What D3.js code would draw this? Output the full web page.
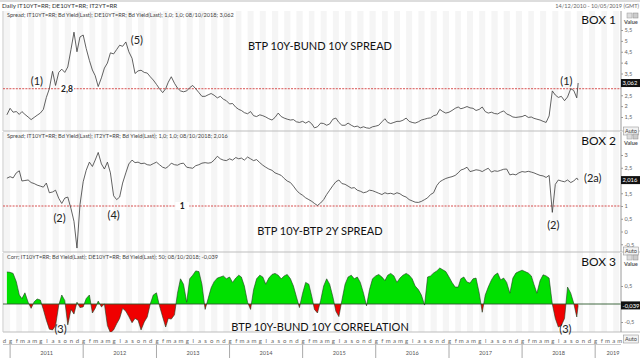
<!DOCTYPE html>
<html><head><meta charset="utf-8">
<script src="https://cdn.jsdelivr.net/npm/d3@7"></script>
<style>body{margin:0;background:#fff}svg{display:block}text{font-family:"Lato","Open Sans",sans-serif}</style>
</head><body><svg id="c" width="640" height="360"></svg>
<script>
// ---- DATA (semi-monthly samples: 16 Dec 2010, 1 Jan 2011, 16 Jan 2011, ... last = 08/10/2018)
const firstSample = "2010-12-16";
const lastSample = "2018-10-08";
const axisStart = "2010-12-14";
const axisEnd = "2019-05-10";

const spreadBund = [
1.60,1.90,1.72,1.75,1.62,1.75,1.62,1.50,1.38,1.48,1.58,1.68,1.85,2.40,2.80,3.60,2.95,3.55,3.70,3.55,
3.80,4.60,5.40,4.50,5.18,5.27,4.65,4.10,3.66,3.40,2.90,3.30,3.75,3.98,4.45,4.40,4.60,4.80,4.75,4.95,
4.50,4.20,3.50,3.62,3.65,3.55,3.52,3.35,3.20,3.00,2.80,2.62,2.80,3.10,3.35,3.05,2.83,2.70,2.66,2.70,
2.85,2.95,2.80,2.62,2.45,2.45,2.52,2.58,2.50,2.38,2.45,2.32,2.25,2.10,2.12,1.95,1.85,1.80,1.70,1.65,
1.75,1.56,1.52,1.60,1.56,1.50,1.42,1.36,1.48,1.68,1.52,1.45,1.40,1.36,1.38,1.28,1.25,1.30,1.22,1.30,
1.18,1.00,1.05,1.22,1.20,1.12,1.18,1.40,1.45,1.25,1.12,1.12,1.22,1.12,1.05,1.08,1.00,1.05,1.00,0.98,
1.05,1.08,1.12,1.28,1.42,1.25,1.20,1.25,1.30,1.30,1.35,1.45,1.30,1.25,1.22,1.28,1.36,1.40,1.44,1.46,
1.56,1.60,1.85,1.75,1.68,1.72,1.80,1.90,1.96,1.88,1.92,1.98,1.92,1.90,1.80,1.85,1.96,1.75,1.68,1.72,
1.66,1.64,1.72,1.78,1.64,1.58,1.50,1.48,1.50,1.52,1.58,1.48,1.50,1.44,1.40,1.36,1.30,1.25,1.55,2.70,
2.51,2.40,2.45,2.25,2.42,2.80,2.72,2.38,3.062];

const spread2y = [
2.09,2.15,2.10,2.30,2.38,1.98,2.00,2.02,1.92,1.88,1.82,1.78,1.74,1.90,1.52,1.55,1.62,1.30,1.10,1.31,
1.35,0.90,0.40,-0.65,1.05,1.95,2.40,2.72,2.55,2.80,3.10,2.65,2.45,2.72,2.30,1.40,1.25,1.35,1.90,2.30,
2.65,2.80,2.70,2.72,2.66,2.68,2.62,2.60,2.66,2.72,2.62,2.52,2.48,2.55,2.68,2.62,2.60,2.66,2.68,2.52,
2.50,2.48,2.58,2.62,2.68,2.70,2.68,2.70,2.80,2.95,2.85,2.80,2.78,2.85,2.80,2.90,2.85,2.88,2.80,2.92,
2.85,2.78,2.82,2.70,2.60,2.52,2.45,2.40,2.30,2.25,2.20,2.08,1.98,1.92,1.78,1.62,1.50,1.42,1.32,1.25,
1.18,1.10,1.02,1.12,1.25,1.45,1.62,1.80,1.95,2.02,1.88,1.85,1.78,1.70,1.72,1.62,1.58,1.52,1.55,1.62,
1.60,1.55,1.50,1.45,1.52,1.48,1.50,1.46,1.52,1.48,1.40,1.35,1.25,1.20,1.15,1.14,1.18,1.25,1.32,1.45,
1.52,1.80,1.95,2.02,2.08,2.12,2.15,2.20,2.30,2.41,2.45,2.52,2.35,2.38,2.42,2.40,2.35,2.42,2.48,2.33,
2.38,2.36,2.40,2.44,2.45,2.22,2.25,2.22,2.30,2.35,2.33,2.36,2.33,2.30,2.25,2.20,2.18,2.12,2.20,0.75,
1.85,2.02,1.98,1.95,2.02,1.92,1.98,2.10,2.016];

const corrBund = [
0.89,0.88,0.85,0.62,0.25,0.15,0.31,0.05,-0.12,0.06,0.14,0.11,-0.15,-0.45,-0.70,-0.72,-0.60,-0.03,0.25,0.10,
-0.58,-0.15,-0.28,0.05,-0.10,-0.08,0.15,0.25,-0.25,-0.12,0.08,-0.08,0.00,-0.60,-0.80,-0.72,-0.55,-0.40,-0.12,-0.20,
-0.35,-0.52,-0.40,-0.45,-0.72,-0.50,-0.36,0.00,0.25,0.31,-0.05,-0.36,-0.64,-0.40,-0.42,-0.30,0.30,0.70,0.55,0.05,
0.70,0.80,0.92,0.90,0.55,-0.15,0.15,0.45,0.62,0.72,0.75,0.78,0.70,0.75,0.60,0.72,0.80,0.75,0.50,0.05,
-0.15,0.40,0.70,0.80,0.75,0.55,0.72,0.82,0.85,0.80,0.70,0.78,0.82,0.70,0.50,0.20,-0.10,0.30,0.60,0.55,
0.20,-0.15,-0.25,0.10,0.50,0.70,0.55,0.20,-0.20,-0.35,0.10,0.55,0.75,0.80,0.70,0.75,0.60,0.30,-0.05,0.40,
0.70,0.78,0.82,0.75,0.65,0.80,0.85,0.78,0.60,0.72,0.80,0.85,0.80,0.70,0.50,0.40,0.25,-0.03,0.75,0.78,
0.86,0.92,1.00,0.95,0.90,0.75,0.60,0.47,0.47,0.70,0.75,0.61,0.58,0.70,0.72,0.30,-0.23,0.25,0.47,0.67,
0.80,0.86,0.67,0.72,0.60,0.30,0.72,0.86,0.90,0.94,0.90,0.86,0.78,0.55,0.30,0.65,0.81,0.78,0.72,0.00,
-0.40,-0.64,-0.60,-0.40,0.47,0.30,0.02,-0.36,-0.039];

const monthLetters = ["g","f","m","a","m","g","l","a","s","o","n","d"];
const yearLabels = [2011,2012,2013,2014,2015,2016,2017,2018,2019];
const ticks1 = [1.5,2,2.5,3,3.5,4,4.5,5,5.5];
const ticks2 = [-0.5,0,0.5,1,1.5,2,2.5,3];
const ticks3 = [-0.5,0,0.5];
const refLevel1 = 2.8, refLevel2 = 1;
const headerText = "Daily IT10YT=RR; DE10YT=RR; IT2YT=RR";
const rangeText = "14/12/2010 - 10/05/2019 (GMT)";
const panelLabels = [
 "Spread; IT10YT=RR; Bd Yield(Last); DE10YT=RR; Bd Yield(Last);  1,0; 1,0; 08/10/2018; 3,062",
 "Spread; IT10YT=RR; Bd Yield(Last); IT2YT=RR; Bd Yield(Last);  1,0; 1,0; 08/10/2018; 2,016",
 "Corr; IT10YT=RR; Bd Yield(Last); DE10YT=RR; Bd Yield(Last);  50; 08/10/2018; -0,039"];
const titles = ["BTP 10Y-BUND 10Y SPREAD","BTP 10Y-BTP 2Y SPREAD","BTP 10Y-BUND 10Y CORRELATION"];
const boxNames = ["BOX 1","BOX 2","BOX 3"];
const lastLabels = ["3,062","2,016","-0,039"];
const lastValues = [3.062, 2.016, -0.039];
// annotations: [panel, date, value, text]
const notes = [
 [0,"2011-05-15",3.2,"(1)"],[0,"2012-09-25",5.05,"(5)"],[0,"2018-08-10",3.2,"(1)"],
 [1,"2011-09-05",0.53,"(2)"],[1,"2012-06-01",0.65,"(4)"],[1,"2018-06-06",0.26,"(2)"],[1,"2018-12-20",2.13,"(2a)"],
 [2,"2011-09-10",-0.69,"(3)"],[2,"2018-08-05",-0.68,"(3)"]];
const refNotes = [[0,"2011-10-12",2.8,"2,8"],[1,"2013-05-10",1,"1"]];

// ---- BUILD
const P = d3.timeParse("%Y-%m-%d");
const endD = P(lastSample);
function sampleDates(n){
  const out=[]; let d=P(firstSample);
  for(let i=0;i<n;i++){
    out.push(d>endD?endD:d);
    d = d.getDate()===16 ? new Date(d.getFullYear(), d.getMonth()+1, 1) : new Date(d.getFullYear(), d.getMonth(), 16);
  }
  return out;
}
const svg = d3.select("#c");
const W=640, H=360, L=3, R=621;
const x = d3.scaleTime().domain([P(axisStart),P(axisEnd)]).range([6.5,R]);
const panels = [
  {top:11,bot:131,auto:131,y:d3.scaleLinear().domain([1.5,5.5]).range([117,30]),data:spreadBund,ticks:ticks1},
  {top:132,bot:252,auto:251,y:d3.scaleLinear().domain([1,3]).range([206,155]),data:spread2y,ticks:ticks2},
  {top:253,bot:332,auto:339,y:d3.scaleLinear().domain([-0.5,0.5]).range([322,286]),data:corrBund,ticks:ticks3}
];
const fmt = v => String(+v.toFixed(3)).replace(".",",");

// month bands background
const months = d3.timeMonth.range(d3.timeMonth.floor(P(axisStart)), P(axisEnd));
const bg = svg.append("g");
months.forEach((m,i)=>{
  if(m.getMonth()%2===1){
    const x0=Math.max(x(m),L), x1=Math.min(x(d3.timeMonth.offset(m,1)),R);
    bg.append("rect").attr("x",x0).attr("y",11).attr("width",Math.max(0,x1-x0)).attr("height",321).attr("fill","#f5f5f5");
  }
});

// header
svg.append("line").attr("x1",0).attr("x2",W).attr("y1",1).attr("y2",1).attr("stroke","#bbb");
svg.append("text").attr("x",2).attr("y",8).attr("font-size",6.2).attr("fill","#333").text(headerText);
svg.append("text").attr("x",639).attr("y",8).attr("font-size",5.6).attr("fill","#666").attr("text-anchor","end").text(rangeText);

panels.forEach((p,k)=>{
  const g = svg.append("g");
  const cid="clip"+k;
  svg.append("clipPath").attr("id",cid).append("rect").attr("x",L).attr("y",p.top).attr("width",R-L).attr("height",p.bot-p.top);
  // frame
  g.append("line").attr("x1",L).attr("x2",W).attr("y1",p.bot).attr("y2",p.bot).attr("stroke","#bdbdbd");
  g.append("line").attr("x1",L).attr("x2",L).attr("y1",p.top).attr("y2",p.bot).attr("stroke","#c8c8c8");
  const dates = sampleDates(p.data.length);
  const pts = p.data.map((v,i)=>[dates[i],v]);
  if(k<2){
    const ref = k===0?refLevel1:refLevel2;
    g.append("line").attr("x1",L).attr("x2",R).attr("y1",p.y(ref)).attr("y2",p.y(ref))
      .attr("stroke","#d23c3c").attr("stroke-width",0.9).attr("stroke-dasharray","2,1.2");
    g.append("path").datum(pts).attr("clip-path",`url(#${cid})`)
      .attr("d",d3.line().x(d=>x(d[0])).y(d=>p.y(d[1])))
      .attr("fill","none").attr("stroke","#3a3a3a").attr("stroke-width",0.8);
  } else {
    const y0=p.y(0);
    const defs=svg.append("defs");
    defs.append("clipPath").attr("id","pos").append("rect").attr("x",L).attr("y",p.top).attr("width",R-L).attr("height",y0-p.top);
    defs.append("clipPath").attr("id","neg").append("rect").attr("x",L).attr("y",y0).attr("width",R-L).attr("height",p.bot-y0);
    const area=d3.area().x(d=>x(d[0])).y0(y0).y1(d=>p.y(d[1]));
    g.append("path").datum(pts).attr("clip-path","url(#pos)").attr("d",area).attr("fill","#00e000");
    g.append("path").datum(pts).attr("clip-path","url(#neg)").attr("d",area).attr("fill","#f00000");
    g.append("line").attr("x1",L).attr("x2",R).attr("y1",y0).attr("y2",y0).attr("stroke","#2d5a2d").attr("stroke-width",0.9);
    g.append("path").datum(pts).attr("clip-path",`url(#${cid})`)
      .attr("d",d3.line().x(d=>x(d[0])).y(d=>p.y(d[1])))
      .attr("fill","none").attr("stroke","#1e3a1e").attr("stroke-width",0.6);
  }
  // right axis (ticks hidden behind the last-value box are skipped)
  const yl=p.y(lastValues[k]);
  const shown = p.ticks.filter(t=>Math.abs(p.y(t)-yl)>6.5);
  const ax = g.append("g").attr("transform",`translate(${R},0)`)
    .call(d3.axisRight(p.y).tickValues(shown).tickSize(2).tickPadding(1.5).tickFormat(fmt));
  ax.select(".domain").remove();
  ax.selectAll("line").attr("stroke","#999");
  ax.selectAll("text").attr("font-size",5.6).attr("fill","#666").attr("font-family","Lato,sans-serif");
  g.append("line").attr("x1",R).attr("x2",R).attr("y1",p.top).attr("y2",p.bot).attr("stroke","#9a9a9a");
  g.append("text").attr("x",624).attr("y",p.top+13).attr("font-size",5.6).attr("font-weight","bold").attr("fill","#555").text("Value");
  g.append("rect").attr("x",627).attr("y",p.top+2).attr("width",5).attr("height",5).attr("fill","#ddd").attr("stroke","#999").attr("stroke-width",0.5);
  g.append("rect").attr("x",633).attr("y",p.top+2).attr("width",5).attr("height",5).attr("fill","#ccc").attr("stroke","#888").attr("stroke-width",0.5);
  g.append("rect").attr("x",623.5).attr("y",p.auto-4).attr("width",15).attr("height",8).attr("fill","#f2f2f2").attr("stroke","#999").attr("stroke-width",0.6);
  g.append("text").attr("x",631).attr("y",p.auto+2).attr("font-size",5.6).attr("text-anchor","middle").attr("fill","#444").text("Auto");
  // last value box
  g.append("rect").attr("x",621).attr("y",yl-4).attr("width",19).attr("height",8).attr("fill","#111");
  g.append("text").attr("x",622.5).attr("y",yl+2.2).attr("font-size",5.8).attr("fill","#fff").text(lastLabels[k]);
  // labels
  g.append("text").attr("x",7).attr("y",p.top+6).attr("font-size",5.6).attr("fill","#444").text(panelLabels[k]);
  g.append("text").attr("x",616).attr("y",p.top+12.5).attr("font-size",12).attr("text-anchor","end").attr("fill","#111").text(boxNames[k]);
});
// titles
const ty=[45,230,326];
titles.forEach((t,k)=>svg.append("text").attr("x",320).attr("y",ty[k]).attr("font-size",11).attr("text-anchor","middle")
  .attr("dominant-baseline","central").attr("fill","#111").text(t));
notes.forEach(n=>svg.append("text").attr("x",x(P(n[1]))).attr("y",panels[n[0]].y(n[2])).attr("font-size",11)
  .attr("text-anchor","middle").attr("dominant-baseline","central").attr("fill","#222").text(n[3]));
refNotes.forEach(n=>{
  const xx=x(P(n[1])), yy=panels[n[0]].y(n[2]);
  svg.append("rect").attr("x",xx-7).attr("y",yy-4).attr("width",14).attr("height",8).attr("fill","#fff");
  svg.append("text").attr("x",xx).attr("y",yy).attr("font-size",8.5).attr("font-weight","bold")
  .attr("text-anchor","middle").attr("dominant-baseline","central").attr("fill","#222").text(n[3]);
});
// x axis
const xg=svg.append("g");
xg.append("line").attr("x1",L).attr("x2",R).attr("y1",344.5).attr("y2",344.5).attr("stroke","#ccc");
months.forEach(m=>{
  const xm=x(m);
  if(xm<L-1) return;
  xg.append("text").attr("x",xm+0.5).attr("y",342.5).attr("font-size",6).attr("text-anchor","middle").attr("fill","#666").text(monthLetters[m.getMonth()]);
});
yearLabels.forEach(yv=>{
  const a=new Date(yv,0,1), b=new Date(yv+1,0,1);
  const xa=Math.max(x(a),L), xb=Math.min(x(b),R+10);
  xg.append("line").attr("x1",x(a)).attr("x2",x(a)).attr("y1",344.5).attr("y2",358).attr("stroke","#aaa");
  xg.append("text").attr("x",(xa+xb)/2).attr("y",354.5).attr("font-size",5.6).attr("text-anchor","middle").attr("fill","#555").text(yv);
});
</script></body></html>
